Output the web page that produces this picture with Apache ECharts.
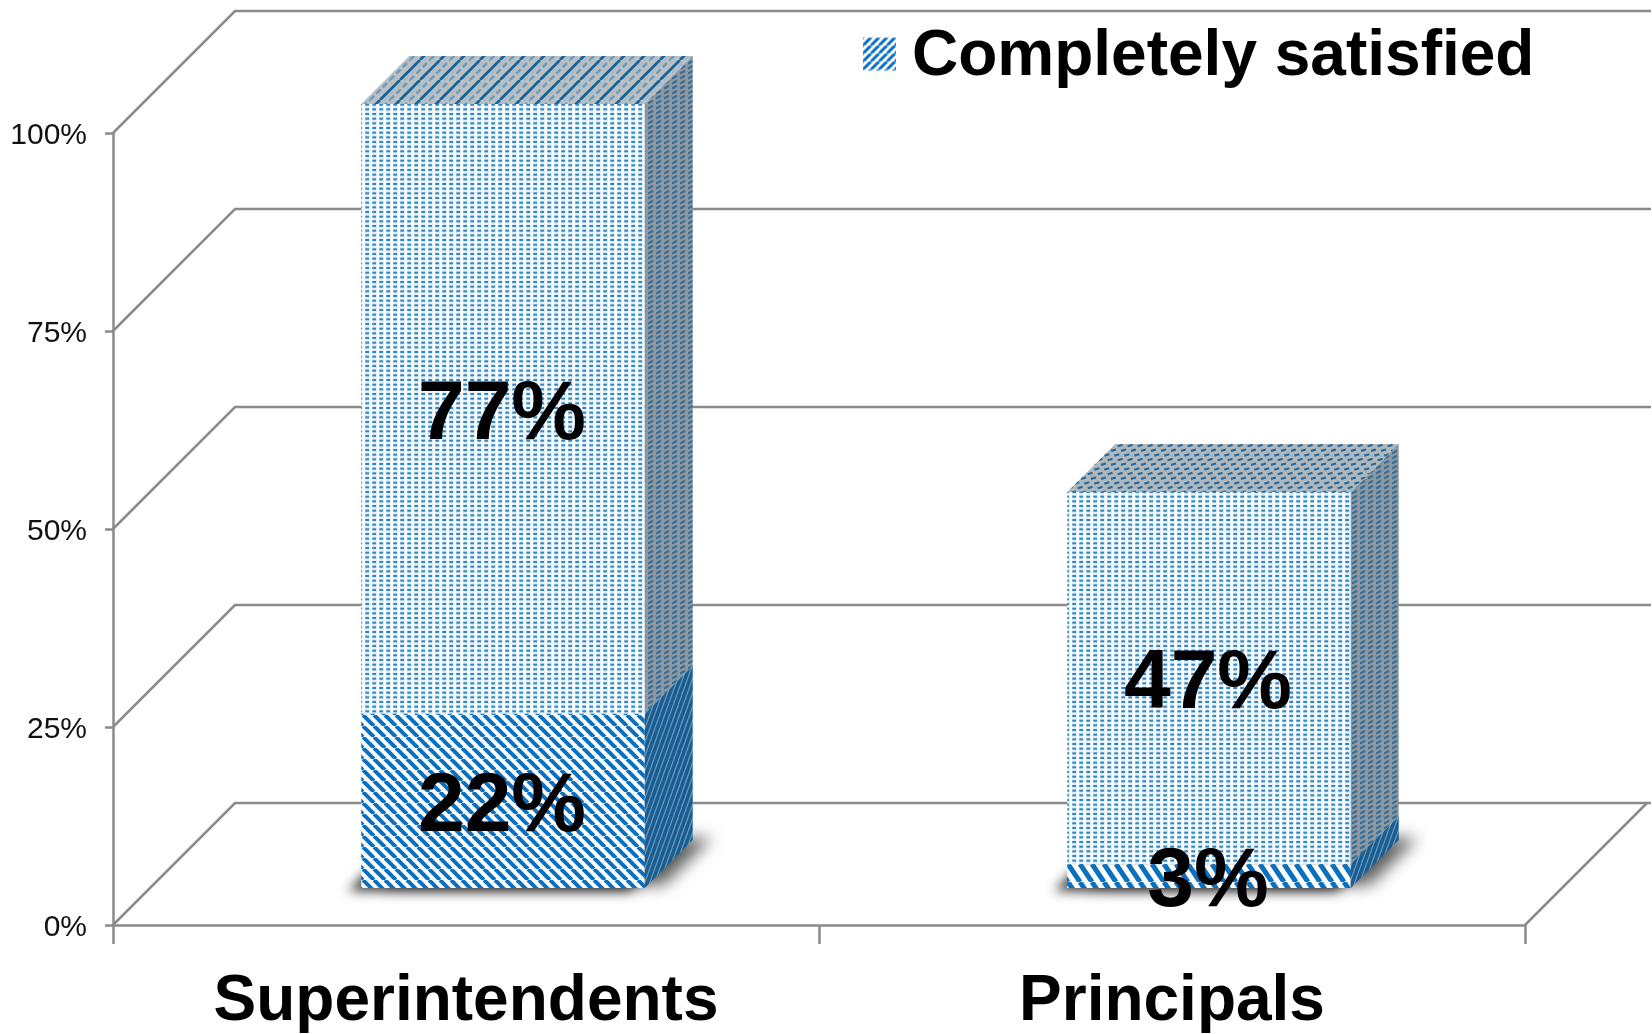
<!DOCTYPE html>
<html>
<head>
<meta charset="utf-8">
<style>html,body{margin:0;padding:0;background:#fff}#c{width:1652px;height:1034px}</style>
<script src="https://cdn.jsdelivr.net/npm/echarts@6/dist/echarts.min.js"></script>
</head>
<body>
<div id="c"></div>
<script>
// ---- data ----
const categories = ['Superintendents', 'Principals'];
const completelySatisfied = [22, 3];
const mostlySatisfied = [77, 47];
const yTicks = [0, 25, 50, 75, 100];
const legendName = 'Completely satisfied';
const otherName = 'Mostly satisfied';

// ---- look ----
const FONT = '"Liberation Sans", Arial, sans-serif';
const GRID = '#8a8a8a';
const GRID_W = 2.5;
const WALL_DEPTH = 122;   // depth of the 3D floor, px
const BAR_OFFSET = 37;    // distance of bar front from front floor edge, px
const BAR_DEPTH = 48;     // depth of the box, px
const BAR_RATIO = 0.4015; // bar width as share of band

function tile(w, h, draw) {
  const c = document.createElement('canvas');
  c.width = w; c.height = h;
  draw(c.getContext('2d'), w, h);
  return { image: c, repeat: 'repeat' };
}
function diag(g, w, h, color, lw, up, shift) {
  g.strokeStyle = color; g.lineWidth = lw; g.beginPath();
  for (let k = -2; k <= 2; k++) {
    const a = k * w + (shift || 0);
    if (up) { g.moveTo(a, h); g.lineTo(a + w, 0); }
    else { g.moveTo(a, 0); g.lineTo(a + w, h); }
  }
  g.stroke();
}
const BLUE = '#0a70c0';
const frontDots = tile(7, 14, (g, w, h) => {
  g.fillStyle = '#ffffff'; g.fillRect(0, 0, w, h);
  g.fillStyle = '#e0eff8'; g.fillRect(1, 0, 4.6, h);
  g.fillStyle = '#2f85c2';
  [1, 5.67, 10.33].forEach(y => g.fillRect(1.3, y, 3.8, 2));
});
const frontStripes = tile(11, 11, (g, w, h) => {
  g.fillStyle = '#fff'; g.fillRect(0, 0, w, h);
  diag(g, w, h, BLUE, 4, false);
});
const frontStripesSteep = tile(12, 18, (g, w, h) => {
  g.fillStyle = '#fff'; g.fillRect(0, 0, w, h);
  diag(g, w, h, BLUE, 5, false);
});
const legendStripes = tile(8, 8, (g, w, h) => {
  g.fillStyle = '#fff'; g.fillRect(0, 0, w, h);
  diag(g, w, h, BLUE, 3, true);
});
const sideDots = tile(8, 10, (g, w, h) => {
  g.fillStyle = '#8f979d'; g.fillRect(0, 0, w, h);
  g.strokeStyle = '#33719f'; g.lineWidth = 2.2;
  g.beginPath();
  [0, 5].forEach(y => {
    g.moveTo(0, y + 3.5); g.lineTo(5, y + 0.8);
  });
  g.stroke();
});
const sideStripes = tile(5, 14, (g, w, h) => {
  g.fillStyle = '#1a5d92'; g.fillRect(0, 0, w, h);
  diag(g, w, h, '#6d9cbd', 1.2, true);
});
const topStripes = tile(20, 20, (g, w, h) => {
  g.fillStyle = '#bcc0c3'; g.fillRect(0, 0, w, h);
  g.setLineDash([6, 3]);
  diag(g, w, h, '#6e9cbb', 2.6, true, 10);
  diag(g, w, h, '#a3bccd', 2, true, 5);
  g.setLineDash([]);
  diag(g, w, h, '#14649c', 2.8, true);
});
const topDots = tile(10, 14, (g, w, h) => {
  g.fillStyle = '#b0b8bd'; g.fillRect(0, 0, w, h);
  g.strokeStyle = '#246a9e'; g.lineWidth = 2.2;
  g.beginPath();
  [[1, 2.2], [4.3, 6.9], [7.6, 11.5]].forEach(([x, y]) => {
    g.moveTo(x, y + 0.7); g.lineTo(x + 5, y - 0.7);
    if (x + 5 > w) { g.moveTo(x - w, y + 0.7); g.lineTo(x + 5 - w, y - 0.7); }
  });
  g.stroke();
});

function pts(list) { return { points: list }; }

// back wall and left wall lines, plus the right floor edge
function renderWall(params, api) {
  const v = api.value(1);
  const p = api.coord([0, v]);
  const cs = params.coordSys;
  const left = cs.x, right = cs.x + cs.width;
  const y = p[1];
  const children = [{
    type: 'polyline',
    shape: pts([[left, y], [left + WALL_DEPTH, y - WALL_DEPTH], [right + WALL_DEPTH + 4, y - WALL_DEPTH]]),
    style: { stroke: GRID, lineWidth: GRID_W, fill: null }
  }];
  if (v === 0) {
    children.push({
      type: 'polyline',
      shape: pts([[right, y], [right + WALL_DEPTH, y - WALL_DEPTH]]),
      style: { stroke: GRID, lineWidth: GRID_W, fill: null }
    });
  }
  return { type: 'group', children };
}

function boxFrame(api, idx, from, to) {
  const halfW = api.size([1, 0])[0] * BAR_RATIO / 2;
  const b = api.coord([idx, from]);
  const t = api.coord([idx, to]);
  const cx = b[0] + BAR_OFFSET;
  return {
    x0: cx - halfW, x1: cx + halfW,
    yb: b[1] - BAR_OFFSET, yt: t[1] - BAR_OFFSET, cx
  };
}

// soft floor shadow: the box footprint stays hidden behind the box, only its blur shows
function renderShadow(params, api) {
  const { x0, x1, yb } = boxFrame(api, api.value(0), 0, 1);
  const d = BAR_DEPTH;
  const foot = pts([[x0 + 1, yb - 1], [x1 - 1, yb - 1], [x1 + d - 1, yb - d], [x0 + d, yb - d]]);
  return {
    type: 'group',
    children: [
      { type: 'polygon', shape: foot,
        style: { fill: '#777', shadowColor: 'rgba(0,0,0,0.62)', shadowBlur: 16, shadowOffsetX: 20, shadowOffsetY: -2 } },
      { type: 'polygon', shape: foot,
        style: { fill: '#777', shadowColor: 'rgba(0,0,0,0.8)', shadowBlur: 12, shadowOffsetX: -14, shadowOffsetY: 4 } }
    ]
  };
}

function makeBar(front, side, top) {
  return function (params, api) {
    const idx = api.value(0), from = api.value(1), val = api.value(2);
    const f = boxFrame(api, idx, from, from + val);
    const d = BAR_DEPTH;
    const children = [
      { type: 'polygon', shape: pts([[f.x0, f.yb], [f.x1, f.yb], [f.x1, f.yt], [f.x0, f.yt]]),
        style: { fill: front[idx] } },
      { type: 'polygon', shape: pts([[f.x1, f.yb], [f.x1 + d, f.yb - d], [f.x1 + d, f.yt - d], [f.x1, f.yt]]),
        style: { fill: side } }
    ];
    if (top) {
      children.push({ type: 'polygon', shape: pts([[f.x0, f.yt], [f.x1, f.yt], [f.x1 + d, f.yt - d], [f.x0 + d, f.yt - d]]),
        style: { fill: top[idx] } });
    }
    children.push({
      type: 'text',
      style: {
        text: val + '%', x: f.cx - 1, y: (f.yb + f.yt) / 2 + 7,
        align: 'center', verticalAlign: 'middle',
        font: 'bold 84px ' + FONT, fill: '#000'
      }
    });
    return { type: 'group', children };
  };
}

const chart = echarts.init(document.getElementById('c'), null, { renderer: 'canvas' });
chart.setOption({
  animation: false,
  backgroundColor: '#fff',
  grid: { left: 113, right: 127, top: 133, bottom: 108, containLabel: false },
  legend: {
    left: 863, top: 25,
    padding: 0,
    selectedMode: false,
    data: [{ name: legendName, icon: 'path://M0 0H33V33H0Z M0 39L33 39', itemStyle: { color: legendStripes } }],
    itemWidth: 33, itemHeight: 39,
    textStyle: { fontFamily: FONT, fontWeight: 'bold', fontSize: 64, color: '#000', padding: [0, 0, 0, 11] }
  },
  xAxis: {
    type: 'category',
    data: categories,
    axisLine: { show: true, lineStyle: { color: GRID, width: GRID_W } },
    axisTick: { show: true, length: 19, alignWithLabel: false, lineStyle: { color: GRID, width: GRID_W } },
    axisLabel: { interval: 0, margin: 45, fontFamily: FONT, fontWeight: 'bold', fontSize: 64, color: '#000' }
  },
  yAxis: {
    type: 'value', min: 0, max: 100, interval: 25,
    axisLine: { show: true, lineStyle: { color: GRID, width: GRID_W } },
    axisTick: { show: true, length: 8, lineStyle: { color: GRID, width: GRID_W } },
    axisLabel: { margin: 26, formatter: '{value}%', fontFamily: FONT, fontSize: 30, color: '#111',
      verticalAlign: 'top', lineHeight: 6 },
    splitLine: { show: false }
  },
  series: [
    { type: 'custom', name: 'walls', silent: true, z: 1, renderItem: renderWall,
      encode: { x: 0, y: 1 }, data: yTicks.map(v => [0, v]) },
    { type: 'custom', name: 'shadow', silent: true, z: 2, renderItem: renderShadow,
      encode: { x: 0, y: 1 }, data: categories.map((c, i) => [i, 0]) },
    { type: 'custom', name: otherName, silent: true, z: 3,
      renderItem: makeBar([frontDots, frontDots], sideDots, [topStripes, topDots]),
      encode: { x: 0, y: 1 },
      data: mostlySatisfied.map((v, i) => [i, completelySatisfied[i], v]) },
    { type: 'custom', name: legendName, silent: true, z: 4,
      renderItem: makeBar([frontStripes, frontStripesSteep], sideStripes, null),
      encode: { x: 0, y: 1 },
      data: completelySatisfied.map((v, i) => [i, 0, v]) }
  ]
});
</script>
</body>
</html>
